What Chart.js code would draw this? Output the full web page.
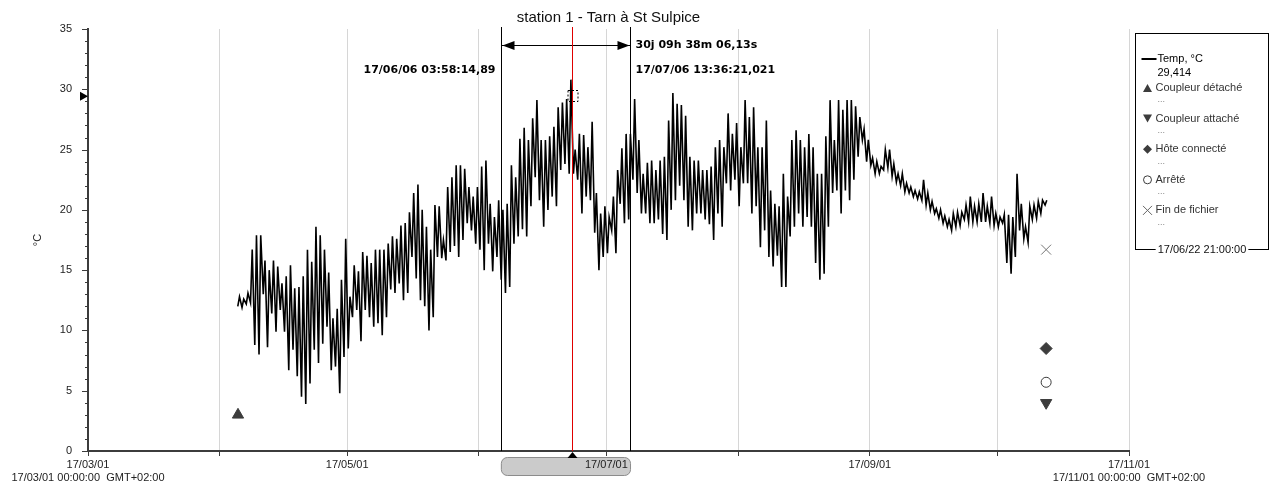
<!DOCTYPE html>
<html>
<head>
<meta charset="utf-8">
<script src="https://cdn.jsdelivr.net/npm/chart.js@4.4.0/dist/chart.umd.min.js"></script>
<style>
  html, body { margin: 0; padding: 0; background: #fff; }
</style>
</head>
<body>
<canvas id="myChart" width="1274" height="490"></canvas>
<script>
// x values are days since 17/03/01 00:00
const chartTitle = "station 1 - Tarn à St Sulpice";
const monthDays = [0, 31, 61, 92, 122, 153, 184, 214, 245];
const monthLabels = [["17/03/01", "17/03/01 00:00:00  GMT+02:00"], "", "17/05/01", "", "17/07/01", "", "17/09/01", "", ["17/11/01", "17/11/01 00:00:00  GMT+02:00"]];

// daily max / min temperature, starting 17/04/05
const firstDay = 35;
const dayMax = [
  12.8, 12.6, 13.1, 16.7, 17.9, 17.9, 15.8, 15.0, 15.8, 15.3,
  13.9, 14.5, 15.4, 13.5, 13.6, 14.5, 16.7, 15.7, 18.6, 17.9,
  16.7, 14.8, 11.0, 11.8, 14.2, 17.6, 12.8, 15.4, 14.9, 16.5,
  16.2, 15.6, 16.7, 16.7, 16.7, 17.2, 17.8, 17.6, 18.7, 18.9,
  19.8, 21.4, 22.1, 20.0, 18.6, 16.7, 20.4, 20.3, 17.5, 21.9,
  22.7, 23.7, 23.7, 23.4, 21.9, 21.1, 21.9, 23.6, 24.1, 20.5,
  19.4, 20.8, 20.0, 20.5, 23.7, 22.7, 25.9, 26.8, 25.8, 27.6,
  29.1, 25.8, 25.8, 26.1, 26.9, 28.5, 28.9, 29.2, 30.8, 25.0,
  26.3, 26.2, 25.2, 27.3, 21.4, 19.7, 20.3, 19.4, 21.1, 23.3,
  25.1, 26.3, 26.3, 29.2, 25.8, 23.0, 23.9, 24.1, 23.3, 24.1,
  24.4, 27.4, 29.7, 28.8, 28.7, 27.8, 24.4, 24.1, 24.1, 23.3,
  23.3, 23.6, 25.2, 25.8, 25.2, 28.0, 26.3, 27.2, 25.2, 29.1,
  27.7, 28.5, 25.2, 25.2, 27.4, 21.6, 20.5, 20.3, 23.0, 21.1,
  25.8, 26.6, 25.8, 25.2, 26.3, 25.2, 23.0, 23.0, 26.1, 29.1,
  25.8, 29.1, 28.3, 29.1, 29.1, 28.6, 27.7, 26.7, 25.8, 24.3,
  24.0, 23.6, 25.0, 25.0, 23.8, 23.0, 23.0, 22.2, 21.9, 21.6,
  21.5, 22.5, 21.4, 20.7, 20.1, 20.0, 19.5, 19.2, 19.7, 19.8,
  19.8, 20.4, 21.1, 20.3, 20.5, 21.4, 20.3, 21.1, 19.7, 19.4,
  19.6, 19.6, 19.4, 23.0, 20.5, 18.6, 20.3, 20.4, 20.7, 20.8, 20.8
];
const dayMin = [
  12.0, 11.9, 12.2, 12.3, 8.8, 8.0, 13.0, 8.6, 11.4, 9.9,
  11.7, 9.9, 6.7, 8.4, 6.2, 4.5, 3.9, 5.6, 8.4, 7.3,
  8.9, 10.3, 6.7, 7.0, 4.8, 7.8, 8.5, 11.1, 11.7, 9.1,
  11.7, 11.1, 10.3, 10.6, 9.6, 11.1, 13.4, 13.1, 13.9, 12.5,
  13.1, 16.1, 14.3, 12.5, 12.0, 10.0, 11.1, 16.1, 16.0, 15.8,
  16.5, 17.0, 16.1, 17.5, 18.9, 18.3, 17.2, 16.7, 15.0, 17.2,
  14.9, 16.1, 14.2, 13.1, 13.6, 17.2, 17.8, 18.4, 17.8, 20.3,
  22.7, 20.8, 18.6, 20.0, 21.1, 20.3, 23.3, 23.8, 23.0, 23.0,
  22.5, 19.7, 21.1, 20.8, 18.1, 15.0, 16.1, 16.4, 18.3, 16.4,
  20.5, 18.9, 19.2, 22.5, 21.4, 19.7, 19.7, 18.9, 18.9, 19.2,
  18.0, 17.5, 20.0, 20.8, 22.0, 20.8, 18.6, 18.3, 19.7, 19.7,
  19.2, 18.8, 17.5, 19.7, 18.6, 22.2, 21.6, 22.5, 20.3, 22.2,
  22.2, 19.7, 20.3, 16.9, 18.3, 16.1, 15.3, 16.2, 13.6, 13.6,
  17.8, 18.6, 19.7, 18.6, 19.4, 18.6, 15.6, 14.2, 14.7, 18.6,
  21.4, 21.6, 19.7, 21.6, 20.8, 22.5, 24.4, 25.8, 24.0, 23.7,
  23.0, 23.0, 23.3, 23.5, 22.8, 22.3, 22.0, 21.5, 21.4, 21.1,
  20.9, 20.8, 20.4, 20.0, 19.7, 19.3, 18.9, 18.6, 18.3, 18.6,
  18.7, 19.2, 19.0, 19.0, 19.0, 19.0, 19.0, 18.9, 18.7, 18.6,
  18.9, 15.6, 14.7, 16.1, 18.3, 17.6, 17.3, 19.2, 19.3, 19.7, 20.4
];

// cursors
const cursorA = 97.166;    // 17/06/06 03:58:14,89
const cursorB = 127.567;   // 17/07/06 13:36:21,021
const cursorRed = 113.875; // 17/06/22 21:00:00
const cursorValue = 29.414;
const cursorTexts = ["17/06/06 03:58:14,89", "17/07/06 13:36:21,021", "30j 09h 38m 06,13s", "17/06/22 21:00:00"];

// logger events
const eventNames = ["Coupleur détaché", "Coupleur attaché", "Hôte connecté", "Arrêté", "Fin de fichier"];
const eventDays = [35.3, 225.5, 225.5, 225.5, 225.5];
const eventValues = [3.0, 4.0, 8.5, 5.7, 16.7];

let tempPoints = [];
for (let i = 0; i < dayMax.length; i++) {
    tempPoints.push({ x: firstDay + i + 0.25, y: dayMin[i] });
    tempPoints.push({ x: firstDay + i + 0.65, y: dayMax[i] });
}

const ink = "#3c3c3c";
const FONT = "'Liberation Sans', Arial, sans-serif";
Chart.defaults.font.family = FONT;
Chart.defaults.font.size = 11;
Chart.defaults.color = "#222";

function eventPoint(i) {
    return [{ x: eventDays[i], y: eventValues[i] }];
}

// little shapes for the legend
function drawIcon(ctx, kind, cx, cy) {
    ctx.save();
    ctx.fillStyle = ink;
    ctx.strokeStyle = ink;
    ctx.lineWidth = 1;
    ctx.beginPath();
    if (kind == 0) {
        ctx.moveTo(cx - 4.5, cy + 4); ctx.lineTo(cx + 4.5, cy + 4); ctx.lineTo(cx, cy - 4); ctx.closePath(); ctx.fill();
    } else if (kind == 1) {
        ctx.moveTo(cx - 4.5, cy - 4); ctx.lineTo(cx + 4.5, cy - 4); ctx.lineTo(cx, cy + 4); ctx.closePath(); ctx.fill();
    } else if (kind == 2) {
        ctx.moveTo(cx, cy - 4.5); ctx.lineTo(cx + 4.5, cy); ctx.lineTo(cx, cy + 4.5); ctx.lineTo(cx - 4.5, cy); ctx.closePath(); ctx.fill();
    } else if (kind == 3) {
        ctx.arc(cx, cy, 4, 0, Math.PI * 2); ctx.stroke();
    } else {
        ctx.strokeStyle = "#666";
        ctx.moveTo(cx - 4.5, cy - 4.5); ctx.lineTo(cx + 4.5, cy + 4.5);
        ctx.moveTo(cx + 4.5, cy - 4.5); ctx.lineTo(cx - 4.5, cy + 4.5); ctx.stroke();
    }
    ctx.restore();
}

const overlay = {
    id: "overlay",
    beforeDraw(chart) {
        const ctx = chart.ctx, xs = chart.scales.x, a = chart.chartArea;
        ctx.save();
        ctx.fillStyle = "#fff";
        ctx.fillRect(0, 0, chart.width, chart.height);
        // grey span box under the axis (behind the tick label)
        const xa = xs.getPixelForValue(cursorA), xb = xs.getPixelForValue(cursorB);
        ctx.beginPath();
        ctx.roundRect(xa + 0.5, a.bottom + 6.5, xb - xa, 18, 6);
        ctx.fillStyle = "#cbcbcb";
        ctx.fill();
        ctx.strokeStyle = "#8c8c8c";
        ctx.lineWidth = 1;
        ctx.stroke();
        ctx.restore();
    },
    afterDraw(chart) {
        const ctx = chart.ctx, xs = chart.scales.x, ys = chart.scales.y, a = chart.chartArea;
        ctx.save();

        // y ticks, long every 5
        ctx.strokeStyle = ink;
        ctx.lineWidth = 1;
        for (let v = 0; v <= 35; v++) {
            const py = Math.round(ys.getPixelForValue(v)) + 0.5;
            const len = v % 5 == 0 ? 6 : 3;
            ctx.beginPath(); ctx.moveTo(a.left - len, py); ctx.lineTo(a.left, py); ctx.stroke();
        }

        // y title
        ctx.save();
        ctx.translate(38, 240);
        ctx.rotate(-Math.PI / 2);
        ctx.fillStyle = "#222";
        ctx.font = "11px " + FONT;
        ctx.textAlign = "center";
        ctx.textBaseline = "middle";
        ctx.fillText("°C", 0, 0);
        ctx.restore();

        // title
        ctx.fillStyle = "#111";
        ctx.font = "15px " + FONT;
        ctx.textAlign = "center";
        ctx.textBaseline = "middle";
        ctx.fillText(chartTitle, (a.left + a.right) / 2, 18);

        // the two black cursors and the span arrow
        const xa = Math.round(xs.getPixelForValue(cursorA)) + 0.5;
        const xb = Math.round(xs.getPixelForValue(cursorB)) + 0.5;
        ctx.strokeStyle = "#000";
        ctx.lineWidth = 1;
        ctx.beginPath();
        ctx.moveTo(xa, a.top - 2); ctx.lineTo(xa, a.bottom);
        ctx.moveTo(xb, a.top - 2); ctx.lineTo(xb, a.bottom);
        const ay = a.top + 16.5;
        ctx.moveTo(xa, ay); ctx.lineTo(xb, ay);
        ctx.stroke();
        ctx.fillStyle = "#000";
        ctx.beginPath();
        ctx.moveTo(xa + 1, ay); ctx.lineTo(xa + 13, ay - 4.5); ctx.lineTo(xa + 13, ay + 4.5); ctx.closePath();
        ctx.moveTo(xb - 1, ay); ctx.lineTo(xb - 13, ay - 4.5); ctx.lineTo(xb - 13, ay + 4.5); ctx.closePath();
        ctx.fill();

        ctx.font = "bold 11px 'DejaVu Sans', Verdana, sans-serif";
        ctx.textBaseline = "middle";
        ctx.textAlign = "left";
        ctx.fillText(cursorTexts[2], xb + 5, ay);
        ctx.fillText(cursorTexts[1], xb + 5, a.top + 41);
        ctx.textAlign = "right";
        ctx.fillText(cursorTexts[0], xa - 6, a.top + 41);

        // red cursor
        const xr = Math.round(xs.getPixelForValue(cursorRed)) + 0.5;
        const yr = ys.getPixelForValue(cursorValue);
        ctx.strokeStyle = "#e00000";
        ctx.beginPath(); ctx.moveTo(xr, a.top - 2); ctx.lineTo(xr, a.bottom); ctx.stroke();
        ctx.strokeStyle = "#000";
        ctx.setLineDash([2, 2]);
        ctx.strokeRect(xr - 4.5, Math.round(yr) - 5.5, 10, 11);
        ctx.setLineDash([]);
        // pointer on the y axis and under the x axis
        ctx.fillStyle = "#000";
        ctx.beginPath();
        ctx.moveTo(a.left - 8, yr - 4.5); ctx.lineTo(a.left, yr); ctx.lineTo(a.left - 8, yr + 4.5); ctx.closePath();
        ctx.moveTo(xr, a.bottom + 1); ctx.lineTo(xr + 5, a.bottom + 7); ctx.lineTo(xr - 5, a.bottom + 7); ctx.closePath();
        ctx.fill();

        // legend box
        const lx = 1135.5, ly = 33.5, lw = 133, lh = 216;
        ctx.strokeStyle = "#000";
        ctx.lineWidth = 1;
        ctx.strokeRect(lx, ly, lw, lh);
        ctx.lineWidth = 2;
        ctx.beginPath(); ctx.moveTo(lx + 6, 59); ctx.lineTo(lx + 21, 59); ctx.stroke();
        ctx.fillStyle = "#000";
        ctx.font = "11px " + FONT;
        ctx.textAlign = "left";
        ctx.fillText("Temp, °C", lx + 22, 59);
        ctx.fillText(cursorValue.toFixed(3).replace(".", ","), lx + 22, 73);
        for (let i = 0; i < eventNames.length; i++) {
            const ry = 88 + i * 30.6;
            drawIcon(ctx, i, lx + 12, ry);
            ctx.fillStyle = "#333";
            ctx.font = "11px " + FONT;
            ctx.fillText(eventNames[i], lx + 20, ry);
            ctx.fillStyle = "#888";
            ctx.font = "9px " + FONT;
            ctx.fillText("...", lx + 22, ry + 12);
        }
        ctx.font = "11px " + FONT;
        const dw = ctx.measureText(cursorTexts[3]).width;
        const dcx = lx + lw / 2;
        ctx.fillStyle = "#fff";
        ctx.fillRect(dcx - dw / 2 - 2, ly + lh - 6, dw + 4, 12);
        ctx.fillStyle = "#111";
        ctx.textAlign = "center";
        ctx.fillText(cursorTexts[3], dcx, ly + lh);
        ctx.restore();
    }
};

new Chart("myChart", {
    type: "scatter",
    data: {
        datasets: [{
            label: "Temp, °C",
            data: tempPoints,
            showLine: true,
            borderColor: "#000",
            borderWidth: 1.6,
            pointRadius: 0,
            tension: 0
        }, {
            label: eventNames[0],
            data: eventPoint(0),
            pointStyle: "triangle",
            pointRadius: 6.5,
            backgroundColor: ink,
            borderColor: ink
        }, {
            label: eventNames[1],
            data: eventPoint(1),
            pointStyle: "triangle",
            rotation: 180,
            pointRadius: 6.5,
            backgroundColor: ink,
            borderColor: ink
        }, {
            label: eventNames[2],
            data: eventPoint(2),
            pointStyle: "rectRot",
            pointRadius: 6,
            backgroundColor: ink,
            borderColor: ink
        }, {
            label: eventNames[3],
            data: eventPoint(3),
            pointStyle: "circle",
            pointRadius: 5,
            backgroundColor: "#fff",
            borderColor: ink,
            borderWidth: 1
        }, {
            label: eventNames[4],
            data: eventPoint(4),
            pointStyle: "crossRot",
            pointRadius: 7,
            borderColor: "#777",
            borderWidth: 1
        }]
    },
    options: {
        responsive: false,
        animation: false,
        events: [],
        devicePixelRatio: 1,
        layout: { padding: { left: 0, top: 29, right: 145, bottom: 0 } },
        plugins: { legend: { display: false }, tooltip: { enabled: false } },
        scales: {
            x: {
                type: "linear",
                min: 0,
                max: 245,
                afterBuildTicks: s => { s.ticks = monthDays.map(v => ({ value: v })); },
                afterFit: s => { s.height = 39; },
                ticks: {
                    autoSkip: false,
                    maxRotation: 0,
                    padding: 2,
                    color: "#222",
                    callback: (v, i) => monthLabels[i]
                },
                grid: {
                    color: c => (c.tick && c.tick.value == 0 ? "rgba(0,0,0,0)" : "#d6d6d6"),
                    tickColor: ink,
                    tickLength: 5
                },
                border: { color: ink, width: 2 }
            },
            y: {
                min: 0,
                max: 35,
                afterFit: s => { s.width = 88; },
                ticks: {
                    stepSize: 1,
                    autoSkip: false,
                    padding: 8,
                    color: "#222",
                    callback: v => (v % 5 == 0 ? v : "")
                },
                grid: { display: false },
                border: { color: ink, width: 2 }
            }
        }
    },
    plugins: [overlay]
});
</script>
</body>
</html>
